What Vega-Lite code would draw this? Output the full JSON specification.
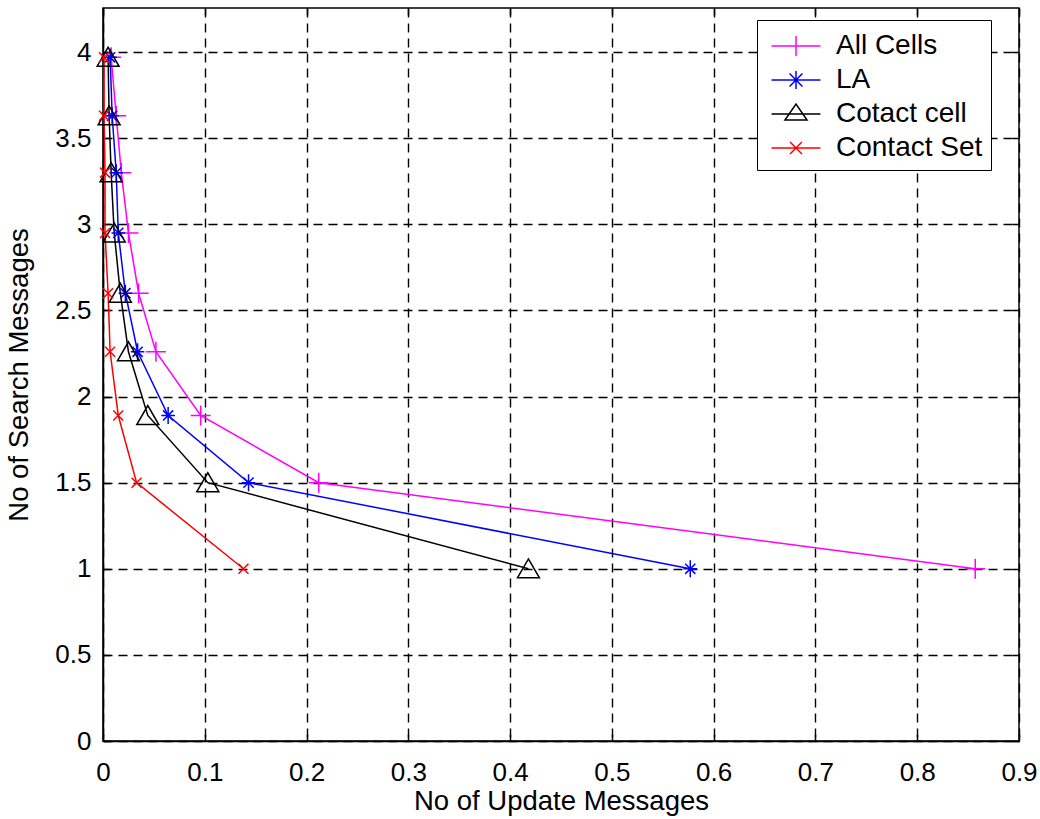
{
  "$schema": "https://vega.github.io/schema/vega-lite/v6.json",
  "width": 916,
  "height": 733,
  "autosize": "none",
  "padding": {"left": 103, "top": 8, "right": 21, "bottom": 78},
  "background": "white",
  "config": {
    "font": "Liberation Sans",
    "view": {"stroke": "black", "strokeWidth": 1.5},
    "axis": {
      "labelFont": "Liberation Sans",
      "titleFont": "Liberation Sans",
      "labelColor": "black",
      "titleColor": "black",
      "labelFontSize": 26,
      "titleFontSize": 27.5,
      "titleFontWeight": "normal",
      "domainColor": "black",
      "domainWidth": 1.5,
      "tickColor": "black",
      "tickWidth": 1.5,
      "gridColor": "black",
      "gridOpacity": 1,
      "gridWidth": 1.4,
      "gridDash": [9, 6]
    },
    "legend": {
      "labelFont": "Liberation Sans",
      "labelFontSize": 28,
      "labelColor": "black"
    }
  },
  "data": {
    "values": [
      {"series": "All Cells", "x": 0.008, "y": 3.97},
      {"series": "All Cells", "x": 0.013, "y": 3.63},
      {"series": "All Cells", "x": 0.018, "y": 3.3},
      {"series": "All Cells", "x": 0.025, "y": 2.95},
      {"series": "All Cells", "x": 0.035, "y": 2.6},
      {"series": "All Cells", "x": 0.052, "y": 2.26},
      {"series": "All Cells", "x": 0.096, "y": 1.89},
      {"series": "All Cells", "x": 0.212, "y": 1.5},
      {"series": "All Cells", "x": 0.857, "y": 1.0},
      {"series": "LA", "x": 0.007, "y": 3.97},
      {"series": "LA", "x": 0.009, "y": 3.63},
      {"series": "LA", "x": 0.013, "y": 3.3},
      {"series": "LA", "x": 0.015, "y": 2.95},
      {"series": "LA", "x": 0.022, "y": 2.6},
      {"series": "LA", "x": 0.034, "y": 2.26},
      {"series": "LA", "x": 0.064, "y": 1.89},
      {"series": "LA", "x": 0.143, "y": 1.5},
      {"series": "LA", "x": 0.577, "y": 1.0},
      {"series": "Cotact cell", "x": 0.005, "y": 3.97},
      {"series": "Cotact cell", "x": 0.006, "y": 3.63},
      {"series": "Cotact cell", "x": 0.008, "y": 3.3},
      {"series": "Cotact cell", "x": 0.011, "y": 2.95},
      {"series": "Cotact cell", "x": 0.017, "y": 2.6},
      {"series": "Cotact cell", "x": 0.025, "y": 2.26},
      {"series": "Cotact cell", "x": 0.044, "y": 1.89},
      {"series": "Cotact cell", "x": 0.103, "y": 1.5},
      {"series": "Cotact cell", "x": 0.418, "y": 1.0},
      {"series": "Contact Set", "x": 0.001, "y": 3.97},
      {"series": "Contact Set", "x": 0.001, "y": 3.63},
      {"series": "Contact Set", "x": 0.002, "y": 3.3},
      {"series": "Contact Set", "x": 0.002, "y": 2.95},
      {"series": "Contact Set", "x": 0.005, "y": 2.6},
      {"series": "Contact Set", "x": 0.007, "y": 2.26},
      {"series": "Contact Set", "x": 0.015, "y": 1.89},
      {"series": "Contact Set", "x": 0.033, "y": 1.5},
      {"series": "Contact Set", "x": 0.138, "y": 1.0}
    ]
  },
  "layer": [
    {
      "mark": {"type": "line", "strokeWidth": 1.5},
      "encoding": {
        "x": {
          "field": "x", "type": "quantitative",
          "scale": {"domain": [0, 0.9], "nice": false, "zero": false},
          "axis": {
            "orient": "bottom",
            "values": [0, 0.1, 0.2, 0.3, 0.4, 0.5, 0.6, 0.7, 0.8, 0.9],
            "format": "~g",
            "grid": true,
            "tickSize": -7,
            "labelPadding": 25,
            "labelFlush": false,
            "title": "No of Update Messages",
            "titlePadding": 2
          }
        },
        "y": {
          "field": "y", "type": "quantitative",
          "scale": {"domain": [0, 4.256], "nice": false, "zero": false},
          "axis": {
            "orient": "left",
            "values": [0, 0.5, 1, 1.5, 2, 2.5, 3, 3.5, 4],
            "format": "~g",
            "grid": true,
            "tickSize": -7,
            "labelPadding": 19,
            "labelFlush": false,
            "title": "No of Search Messages",
            "titlePadding": 21
          }
        },
        "order": {"field": "y", "type": "quantitative"},
        "color": {
          "field": "series", "type": "nominal",
          "scale": {
            "domain": ["All Cells", "LA", "Cotact cell", "Contact Set"],
            "range": ["#ff00ff", "#0000ff", "#000000", "#ff0000"]
          },
          "legend": {
            "title": null,
            "orient": "none",
            "legendX": 654,
            "legendY": 12,
            "padding": 8,
            "strokeColor": "black",
            "fillColor": "white",
            "symbolType": "circle",
            "symbolSize": 1156,
            "symbolStrokeWidth": 1.5,
            "symbolOffset": 13,
            "labelOffset": 22,
            "rowPadding": 2,
            "encode": {
              "symbols": {
                "update": {
                  "shape": {"signal": "datum.value === 'All Cells' ? 'M-1.44,0L1.44,0M0,-0.59L0,0.59' : datum.value === 'LA' ? 'M-1.44,0L1.44,0M0,-0.53L0,0.53M-0.38,-0.38L0.38,0.38M-0.38,0.38L0.38,-0.38' : datum.value === 'Cotact cell' ? 'M-1.44,0L1.44,0M-0.65,0.35L0,-0.59L0.65,0.35Z' : 'M-1.44,0L1.44,0M-0.35,-0.35L0.35,0.35M-0.35,0.35L0.35,-0.35'"},
                  "fill": {"value": "transparent"},
                  "stroke": {"scale": "color", "field": "value"},
                  "strokeWidth": {"value": 1.5},
                  "size": {"value": 1156},
                  "opacity": {"value": 1}
                }
              }
            }
          }
        }
      }
    },
    {
      "transform": [{"filter": "datum.series === 'All Cells'"}],
      "mark": {"type": "point", "filled": false, "strokeWidth": 1.5, "opacity": 1, "color": "#ff00ff", "shape": "M-1,0L1,0M0,-1L0,1", "size": 400},
      "encoding": {
        "x": {"field": "x", "type": "quantitative", "axis": null},
        "y": {"field": "y", "type": "quantitative", "axis": null}
      }
    },
    {
      "transform": [{"filter": "datum.series === 'LA'"}],
      "mark": {"type": "point", "filled": false, "strokeWidth": 1.5, "opacity": 1, "color": "#0000ff", "shape": "M-0.8,0L0.8,0M0,-1L0,1M-0.6,-0.6L0.6,0.6M-0.6,0.6L0.6,-0.6", "size": 289},
      "encoding": {
        "x": {"field": "x", "type": "quantitative", "axis": null},
        "y": {"field": "y", "type": "quantitative", "axis": null}
      }
    },
    {
      "transform": [{"filter": "datum.series === 'Cotact cell'"}],
      "mark": {"type": "point", "filled": false, "strokeWidth": 1.5, "opacity": 1, "color": "#000000", "shape": "M-1,0.82L0,-0.9L1,0.82Z", "size": 484},
      "encoding": {
        "x": {"field": "x", "type": "quantitative", "axis": null},
        "y": {"field": "y", "type": "quantitative", "axis": null}
      }
    },
    {
      "transform": [{"filter": "datum.series === 'Contact Set'"}],
      "mark": {"type": "point", "filled": false, "strokeWidth": 1.5, "opacity": 1, "color": "#ff0000", "shape": "M-1,-1L1,1M-1,1L1,-1", "size": 100},
      "encoding": {
        "x": {
          "field": "x", "type": "quantitative",
          "axis": {
            "orient": "top",
            "values": [0, 0.1, 0.2, 0.3, 0.4, 0.5, 0.6, 0.7, 0.8, 0.9],
            "labels": false,
            "grid": false,
            "domain": false,
            "tickSize": -7,
            "title": null
          }
        },
        "y": {
          "field": "y", "type": "quantitative",
          "axis": {
            "orient": "right",
            "values": [0, 0.5, 1, 1.5, 2, 2.5, 3, 3.5, 4],
            "labels": false,
            "grid": false,
            "domain": false,
            "tickSize": -7,
            "title": null
          }
        }
      }
    }
  ],
  "resolve": {"axis": {"x": "independent", "y": "independent"}}
}
